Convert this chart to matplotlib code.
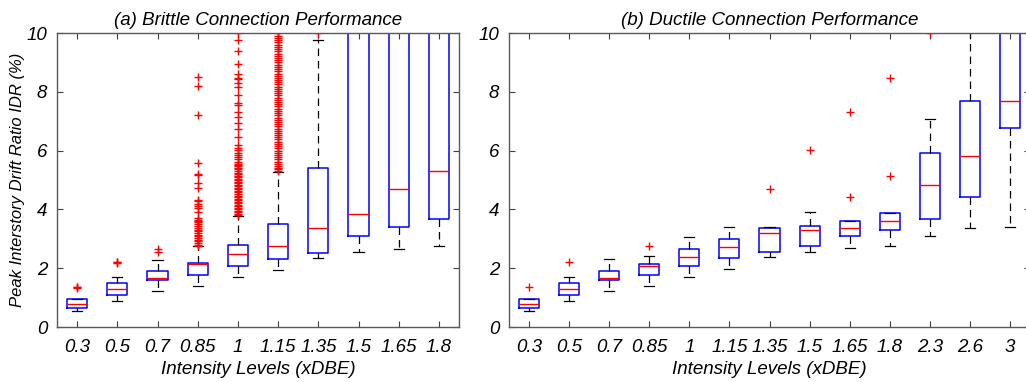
import matplotlib
matplotlib.use("Agg")
import matplotlib.pyplot as plt

plt.rcParams['font.family'] = ['Liberation Sans', 'DejaVu Sans']
plt.rcParams['font.style'] = 'italic'

# ---------------- Panel (a): Brittle ----------------
levels_a = ['0.3', '0.5', '0.7', '0.85', '1', '1.15', '1.35', '1.5', '1.65', '1.8']
lo_a  = [0.53, 0.90, 1.21, 1.38, 1.69, 1.95, 2.35, 2.54, 2.65, 2.74]
q1_a  = [0.65, 1.10, 1.61, 1.78, 2.06, 2.32, 2.52, 3.08, 3.39, 3.67]
med_a = [0.78, 1.30, 1.66, 2.14, 2.48, 2.77, 3.37, 3.84, 4.71, 5.29]
q3_a  = [0.94, 1.49, 1.89, 2.17, 2.78, 3.51, 5.42, 12.0, 12.0, 12.0]
hi_a  = [0.95, 1.71, 2.28, 2.74, 3.79, 5.27, 9.77, 15.0, 15.0, 15.0]
fliers_a = [
    [1.33, 1.35, 1.36],
    [2.18, 2.20, 2.21],
    [2.55, 2.65],
    [2.76, 2.80, 2.86, 2.92, 2.97, 3.02, 3.08, 3.14, 3.20, 3.26, 3.31, 3.36,
     3.42, 3.51, 3.56, 3.60, 3.65, 3.70, 3.91, 4.05, 4.12, 4.20, 4.27, 4.33,
     4.73, 4.90, 5.16, 5.20, 5.58, 7.22, 8.21, 8.51],
    [3.81, 3.86, 3.90, 3.95, 4.00, 4.06, 4.11, 4.16, 4.21, 4.26, 4.32, 4.37,
     4.42, 4.47, 4.52, 4.58, 4.63, 4.68, 4.73, 4.78, 4.84, 4.89, 4.94, 4.99,
     5.04, 5.10, 5.15, 5.20, 5.25, 5.30, 5.36, 5.41, 5.46, 5.51, 5.56, 5.62,
     5.70, 5.78, 5.85, 5.93, 6.02, 6.10, 6.18, 6.46, 6.72, 6.95, 7.15, 7.30,
     7.55, 7.62, 7.90, 8.15, 8.30, 8.42, 8.47, 8.60, 8.95, 9.40, 9.75, 10.0],
    [5.30, 5.36, 5.42, 5.48, 5.55, 5.62, 5.70, 5.78, 5.85, 5.92, 6.00, 6.08,
     6.15, 6.22, 6.30, 6.38, 6.45, 6.52, 6.60, 6.68, 6.75, 6.82, 6.90, 6.98,
     7.05, 7.12, 7.20, 7.28, 7.35, 7.42, 7.50, 7.58, 7.65, 7.72, 7.80, 7.88,
     7.95, 8.02, 8.10, 8.18, 8.25, 8.32, 8.40, 8.48, 8.55, 8.62, 8.70, 8.78,
     8.85, 8.92, 9.00, 9.08, 9.15, 9.22, 9.30, 9.38, 9.45, 9.52, 9.60, 9.68,
     9.75, 9.82, 9.90, 10.0],
    [10.0],
    [], [], [],
]

# ---------------- Panel (b): Ductile ----------------
levels_b = ['0.3', '0.5', '0.7', '0.85', '1', '1.15', '1.35', '1.5', '1.65', '1.8', '2.3', '2.6', '3']
lo_b  = [0.53, 0.90, 1.22, 1.39, 1.71, 1.98, 2.39, 2.56, 2.68, 2.77, 3.08, 3.37, 3.41]
q1_b  = [0.65, 1.09, 1.60, 1.77, 2.06, 2.34, 2.54, 2.75, 3.10, 3.31, 3.66, 4.43, 6.77]
med_b = [0.78, 1.29, 1.65, 2.06, 2.39, 2.73, 3.19, 3.31, 3.36, 3.61, 4.84, 5.81, 7.69]
q3_b  = [0.94, 1.48, 1.89, 2.15, 2.65, 2.99, 3.36, 3.45, 3.61, 3.87, 5.91, 7.68, 12.0]
hi_b  = [0.95, 1.70, 2.31, 2.43, 3.07, 3.40, 3.39, 3.91, 3.62, 3.88, 7.08, 11.0, 15.0]
fliers_b = [
    [1.35], [2.20], [], [2.74], [], [], [4.71], [6.02],
    [4.43, 7.31], [5.12, 8.46], [10.0], [], [],
]

W, H = 1026, 382
fig = plt.figure(figsize=(W / 100, H / 100), dpi=100)

ax_a = fig.add_axes([57 / W, 55 / H, 402 / W, 294 / H])
ax_b = fig.add_axes([509 / W, 55 / H, 521 / W, 294 / H])


def draw(ax, labels, lo, q1, med, q3, hi, fliers, title):
    stats = []
    for i in range(len(labels)):
        stats.append(dict(label=labels[i], whislo=lo[i], q1=q1[i], med=med[i],
                          q3=q3[i], whishi=hi[i], fliers=fliers[i]))
    ax.bxp(stats, positions=range(1, len(labels) + 1), widths=0.5,
           capwidths=0.25, showfliers=True,
           boxprops=dict(color=(0, 0, 1), linewidth=1.1),
           medianprops=dict(color=(1, 0, 0), linewidth=1.0),
           whiskerprops=dict(color='black', linewidth=0.9, linestyle=(0, (6, 4))),
           capprops=dict(color='black', linewidth=0.9),
           flierprops=dict(marker='+', markeredgecolor=(1, 0, 0),
                           markerfacecolor='none', markersize=6,
                           markeredgewidth=1.0, linestyle='none'))
    ax.set_xlim(0.5, len(labels) + 0.5)
    ax.set_ylim(0, 10)
    ax.set_yticks([0, 2, 4, 6, 8, 10])
    ax.set_xticks(range(1, len(labels) + 1))
    ax.set_xticklabels(labels)
    ax.tick_params(direction='in', top=True, right=True, length=4,
                   width=0.8, color='0.25', labelsize=13.5)
    ax.tick_params(axis='x', pad=9)
    ax.tick_params(axis='y', pad=7)
    for s in ax.spines.values():
        s.set_color('0.35')
        s.set_linewidth(1.0)
    ax.set_title(title, fontsize=13.5, pad=6)
    ax.set_xlabel('Intensity Levels (xDBE)', fontsize=13.5, labelpad=3)


draw(ax_a, levels_a, lo_a, q1_a, med_a, q3_a, hi_a, fliers_a,
     '(a) Brittle Connection Performance')
draw(ax_b, levels_b, lo_b, q1_b, med_b, q3_b, hi_b, fliers_b,
     '(b) Ductile Connection Performance')
ax_a.set_ylabel('Peak Interstory Drift Ratio IDR (%)', fontsize=12, labelpad=1)

fig.savefig('out.png', dpi=100)
